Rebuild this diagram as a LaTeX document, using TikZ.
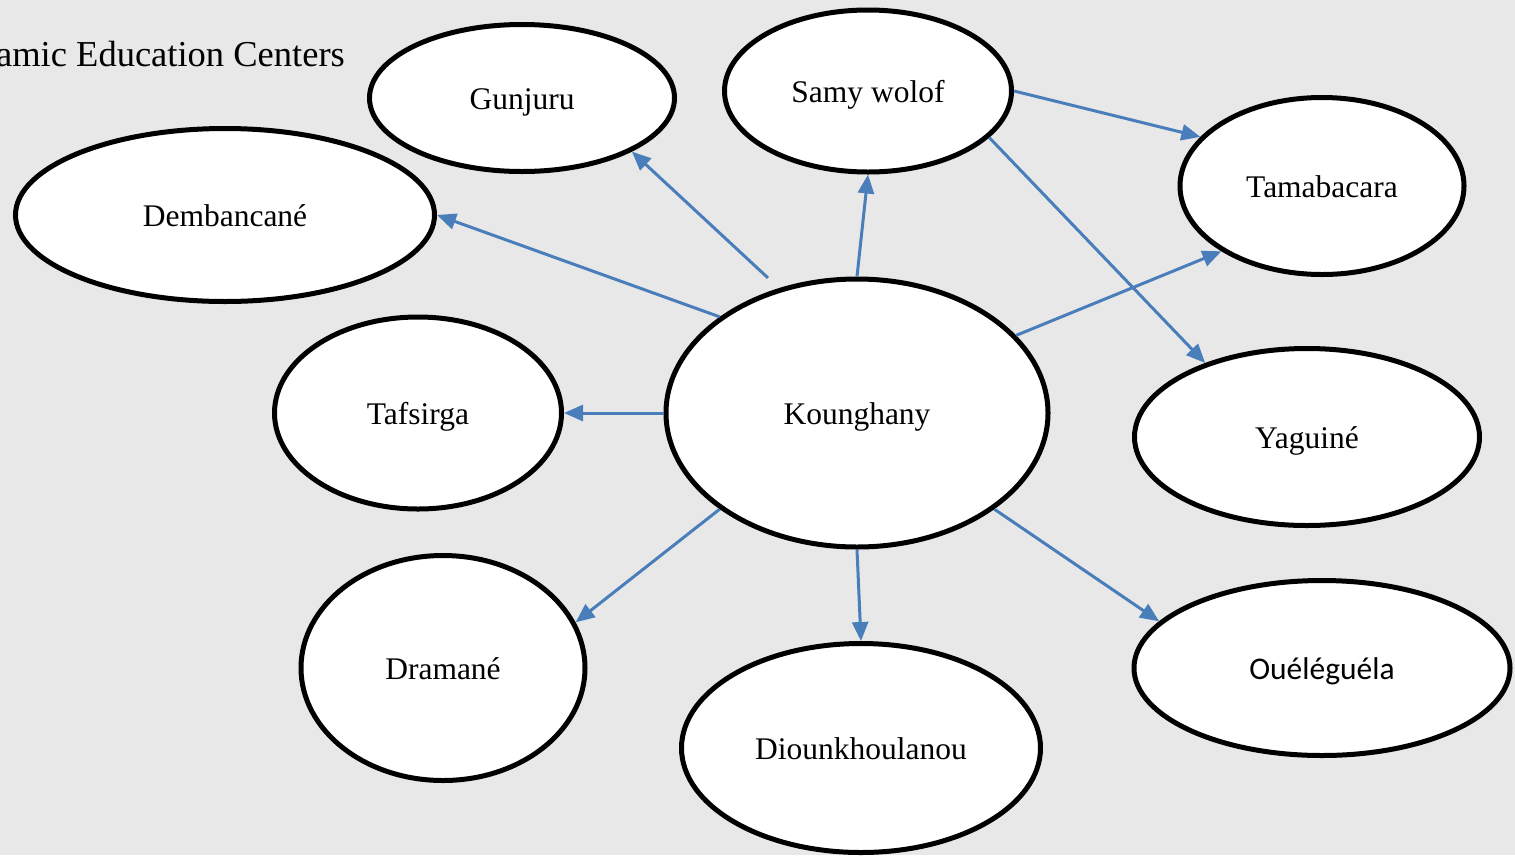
\documentclass[tikz,border=0pt]{standalone}
\usepackage{fontspec}
\setmainfont{Liberation Serif}
\newfontfamily\calib{Carlito}
\usetikzlibrary{shapes.geometric,arrows.meta}
\definecolor{bgc}{HTML}{E8E8E8}
\definecolor{arrc}{HTML}{4A7EBB}
\tikzset{
  oval/.style={ellipse,draw=black,line width=5pt,fill=white,inner sep=0pt,
    text height=22pt,text depth=0pt,
    font=\fontsize{31.5}{36}\selectfont},
  conn/.style={draw=arrc,line width=3pt,-{Triangle[length=19pt,width=16pt]}}
}
\begin{document}
\begin{tikzpicture}[x=1pt,y=-1pt]
\fill[bgc] (0,0) rectangle (1515,855);
\useasboundingbox (0,0) rectangle (1515,855);
\node[anchor=base east,font=\fontsize{36.5}{40}\selectfont,inner sep=0pt] (title) at (345,66) {amic Education Centers};
\node[oval,minimum width=305pt,minimum height=147pt] (gun) at (522,98) {Gunjuru};
\node[oval,minimum width=287pt,minimum height=162pt] (samy) at (868,91) {Samy wolof};
\node[oval,minimum width=419pt,minimum height=173pt] (dem) at (225,215) {Dembancané};
\node[oval,minimum width=284pt,minimum height=177pt] (tam) at (1322,186) {Tamabacara};
\node[oval,minimum width=287pt,minimum height=192pt] (taf) at (418,413) {Tafsirga};
\node[oval,minimum width=382pt,minimum height=268pt] (kou) at (857,413) {Kounghany};
\node[oval,minimum width=345pt,minimum height=177pt] (yag) at (1307,437) {Yaguiné};
\node[oval,minimum width=284pt,minimum height=225pt] (dra) at (443,668) {Dramané};
\node[oval,minimum width=359pt,minimum height=209pt] (dio) at (861,748) {Diounkhoulanou};
\node[oval,minimum width=376pt,minimum height=175pt,font=\calib\fontsize{31.5}{36}\selectfont] (oue) at (1322,668) {Ouéléguéla};
\draw[conn,shorten <=15pt] (kou.122) -- (gun.-26);
\draw[conn] (kou.90) -- (samy.270);
\draw[conn] (kou.145) -- (dem.0);
\draw[conn] (kou.180) -- (taf.0);
\draw[conn] (kou.26) -- (tam.213);
\draw[conn] (kou.215) -- (dra.19);
\draw[conn] (kou.270) -- (dio.90);
\draw[conn] (kou.-35) -- (oue.164.5);
\draw[conn] (samy.0) -- (tam.158);
\draw[conn] (samy.-21.6) -- (yag.144.4);
\end{tikzpicture}
\end{document}
